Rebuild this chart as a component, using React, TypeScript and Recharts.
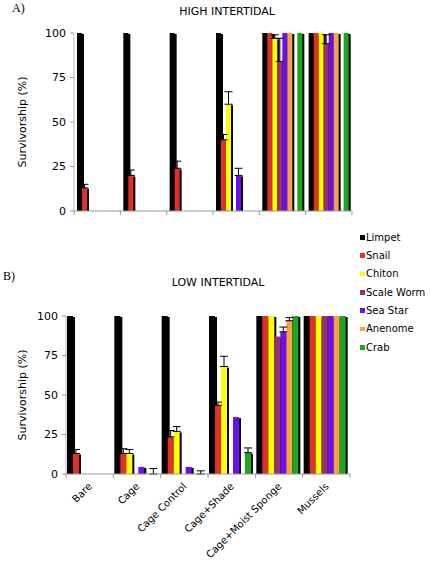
import React from 'react';
import { BarChart, Bar, XAxis, YAxis, ErrorBar } from 'recharts';

// categories and series
const treatments = ['Bare', 'Cage', 'Cage Control', 'Cage+Shade', 'Cage+Moist Sponge', 'Mussels'];
const species = ['Limpet', 'Snail', 'Chiton', 'Scale Worm', 'Sea Star', 'Anenome', 'Crab'];
const speciesColors = ['#000000', '#e0302c', '#ffff00', '#993366', '#6a10f0', '#f9a04a', '#1fa61f'];
const yTicks = [0, 25, 50, 75, 100];

// A) high intertidal - survivorship (%) per treatment
const highLimpet = [100, 100, 100, 100, 100, 100];
const highSnail = [13, 20, 24, 40, 100, 100];
const highChiton = [0, 0, 0, 60, 97, 100];
const highScaleWorm = [0, 0, 0, 0, 84, 94];
const highSeaStar = [0, 0, 0, 20, 100, 100];
const highAnenome = [0, 0, 0, 0, 100, 100];
const highEmpty = [0, 0, 0, 0, 0, 0]; // empty slot before crab in panel A
const highCrab = [0, 0, 0, 0, 100, 100];
// upper error (null = none)
const highSnailErr = [2, 3, 4, 3, null, null];
const highChitonErr = [null, null, null, 7, 2, null];
const highScaleWormErr = [null, null, null, null, 13, 5];
const highSeaStarErr = [null, null, null, 4, null, null];

// B) low intertidal
const lowLimpet = [100, 100, 100, 100, 100, 100];
const lowSnail = [13, 13, 23.5, 43.5, 100, 100];
const lowChiton = [0, 13, 27, 68, 100, 100];
const lowScaleWorm = [0, 0, 0, 0, 87, 100];
const lowSeaStar = [0, 4.5, 4.5, 36, 90, 100];
const lowAnenome = [0, 0, 0, 0, 97, 100];
const lowCrab = [0, 0, 0, 13.5, 100, 100];
const lowSnailErr = [2.5, 3, 4, 2, null, null];
const lowChitonErr = [null, 2.5, 3, 6.5, null, null];
const lowSeaStarErr = [null, null, null, null, 3, null];
const lowAnenomeErr = [null, null, null, null, 2, null];
const lowCrabErr = [null, 3.5, 2, 3, null, null];

type Series = { key: string; color: string; values: number[]; errs?: (number | null)[] };

const highSeries: Series[] = [
  { key: 'Limpet', color: speciesColors[0], values: highLimpet },
  { key: 'Snail', color: speciesColors[1], values: highSnail, errs: highSnailErr },
  { key: 'Chiton', color: speciesColors[2], values: highChiton, errs: highChitonErr },
  { key: 'Scale Worm', color: speciesColors[3], values: highScaleWorm, errs: highScaleWormErr },
  { key: 'Sea Star', color: speciesColors[4], values: highSeaStar, errs: highSeaStarErr },
  { key: 'Anenome', color: speciesColors[5], values: highAnenome },
  { key: 'empty', color: '#ffffff', values: highEmpty },
  { key: 'Crab', color: speciesColors[6], values: highCrab },
];

const lowSeries: Series[] = [
  { key: 'Limpet', color: speciesColors[0], values: lowLimpet },
  { key: 'Snail', color: speciesColors[1], values: lowSnail, errs: lowSnailErr },
  { key: 'Chiton', color: speciesColors[2], values: lowChiton, errs: lowChitonErr },
  { key: 'Scale Worm', color: speciesColors[3], values: lowScaleWorm },
  { key: 'Sea Star', color: speciesColors[4], values: lowSeaStar, errs: lowSeaStarErr },
  { key: 'Anenome', color: speciesColors[5], values: lowAnenome, errs: lowAnenomeErr },
  { key: 'Crab', color: speciesColors[6], values: lowCrab, errs: lowCrabErr },
];

const buildRows = (series: Series[]) =>
  treatments.map((name, i) => {
    const row: any = { name };
    series.forEach((s) => {
      row[s.key] = s.values[i];
      const e = s.errs ? s.errs[i] : null;
      row[s.key + '_err'] = e == null ? null : [0, e];
    });
    return row;
  });

const highData = buildRows(highSeries);
const lowData = buildRows(lowSeries);

// bar with a small dark drop shadow on its right side
const ShadowBar = (props: any) => {
  const { x, y, width, height, fill } = props;
  if (!height || height <= 0 || fill === '#ffffff') return null;
  return (
    <g>
      <rect x={x + 2} y={y + 1} width={width} height={Math.max(height - 1, 0)} fill="#000" />
      <rect x={x} y={y} width={width} height={height} fill={fill} />
    </g>
  );
};

const makeXTick = (band: number, showLabel: boolean) => (props: any) => {
  const { x, y, payload, index } = props;
  const lx = x + 3;
  const ly = y + 13;
  return (
    <g>
      <line x1={x - band / 2} x2={x - band / 2} y1={y} y2={y + 4} stroke="#999" />
      {index === treatments.length - 1 && (
        <line x1={x + band / 2} x2={x + band / 2} y1={y} y2={y + 4} stroke="#999" />
      )}
      {showLabel && (
        <text x={lx} y={ly} transform={`rotate(-45, ${lx}, ${ly})`} textAnchor="end" fontSize={10} fill="#000">
          {payload.value}
        </text>
      )}
    </g>
  );
};

const Panel = ({ data, series, width, height, margin, xHeight, band, showLabels, labelDx }: any) => (
  <BarChart width={width} height={height} data={data} margin={margin} barCategoryGap={showLabels ? 1 : 3} barGap={0}>
    <XAxis
      dataKey="name"
      height={xHeight}
      interval={0}
      tickLine={false}
      tickSize={0}
      tickMargin={0}
      axisLine={{ stroke: '#999' }}
      tick={makeXTick(band, showLabels)}
    />
    <YAxis
      width={60}
      domain={[0, 100]}
      ticks={yTicks}
      interval={0}
      tickSize={4}
      tickMargin={4}
      axisLine={{ stroke: '#bbb' }}
      tickLine={{ stroke: '#999' }}
      tick={{ fontSize: 11, fill: '#000' }}
      label={{ value: 'Survivorship (%)', angle: -90, position: 'center', dx: labelDx, fontSize: 11, fill: '#000' }}
    />
    {series.map((s: Series) => (
      <Bar key={s.key} dataKey={s.key} fill={s.color} isAnimationActive={false} shape={<ShadowBar />}>
        {s.errs && <ErrorBar dataKey={s.key + '_err'} width={4} stroke="#000" strokeWidth={1} direction="y" />}
      </Bar>
    ))}
  </BarChart>
);

export default function App() {
  return (
    <div
      style={{
        position: 'absolute',
        left: 0,
        top: 0,
        width: 430,
        height: 565,
        background: '#fff',
        fontFamily: '"DejaVu Sans", Verdana, sans-serif',
      }}
    >
      <div style={{ position: 'absolute', left: 12, top: 1, fontFamily: '"Liberation Serif", serif', fontSize: 12 }}>A)</div>
      <div style={{ position: 'absolute', left: 0, width: 454, top: 5, textAlign: 'center', fontSize: 11 }}>HIGH INTERTIDAL</div>
      <div style={{ position: 'absolute', left: 0, top: 0 }}>
        <Panel
          data={highData}
          series={highSeries}
          width={430}
          height={230}
          margin={{ top: 33, right: 78, left: 14, bottom: 9 }}
          xHeight={10}
          band={278 / 6}
          showLabels={false}
          labelDx={-22}
        />
      </div>

      <div style={{ position: 'absolute', left: 3, top: 269, fontFamily: '"Liberation Serif", serif', fontSize: 12 }}>B)</div>
      <div style={{ position: 'absolute', left: 0, width: 436, top: 276, textAlign: 'center', fontSize: 11 }}>LOW INTERTIDAL</div>
      <div style={{ position: 'absolute', left: 0, top: 220 }}>
        <Panel
          data={lowData}
          series={lowSeries}
          width={430}
          height={345}
          margin={{ top: 96, right: 80, left: 6, bottom: 6 }}
          xHeight={85}
          band={284 / 6}
          showLabels={true}
          labelDx={-14}
        />
      </div>

      {species.map((name, i) => (
        <div
          key={name}
          style={{
            position: 'absolute',
            left: 360,
            top: 237.3 + i * 18.33 - 7,
            height: 14,
            display: 'flex',
            alignItems: 'center',
            fontSize: 10,
            whiteSpace: 'nowrap',
          }}
        >
          <span style={{ display: 'inline-block', width: 4.5, height: 4.5, background: speciesColors[i], marginRight: 1.5 }} />
          {name}
        </div>
      ))}
    </div>
  );
}
